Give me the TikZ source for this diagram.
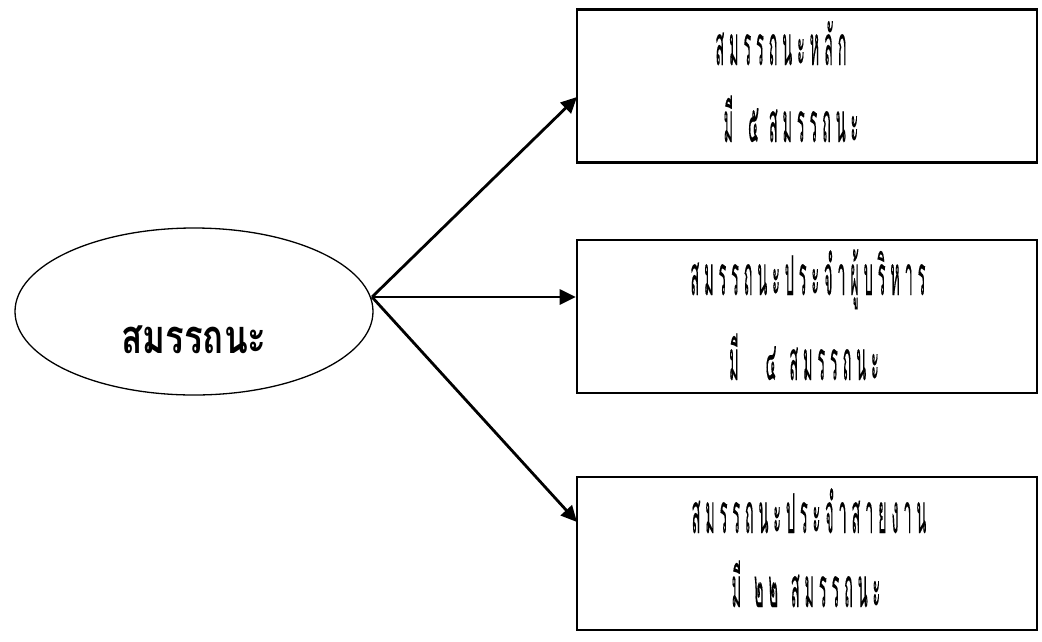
\documentclass[tikz,border=0pt]{standalone}
\usepackage{fontspec}
\usetikzlibrary{shapes.geometric,arrows.meta}
\newfontfamily\thaisp[Script=Thai,FakeStretch=0.26,LetterSpace=9,FakeBold=0.15]{Loma}
\newfontfamily\thaibold[Script=Thai,FakeStretch=0.74]{Loma}
\tikzset{
  box/.style={draw,line width=2.6pt,minimum width=460pt,minimum height=153pt,inner sep=0pt},
  oval/.style={ellipse,draw,line width=1.3pt,minimum width=358pt,minimum height=167pt,inner sep=0pt},
  lbl/.style={inner sep=0pt,anchor=base,font=\thaisp\fontsize{55}{57}\selectfont},
  big/.style={inner sep=0pt,anchor=base,font=\thaibold\bfseries\fontsize{47}{49}\selectfont},
  conn/.style={line width=2.8pt,-{Triangle[length=16pt,width=15pt]}}
}
\begin{document}
\begin{tikzpicture}[x=1pt,y=-1pt]
\useasboundingbox (0,0) rectangle (1042,641);
\node[oval] (e) at (194,311.5) {};
\node[big] (et) at (194,353) {สมรรถนะ};
\node[box] (b1) at (807,86) {};
\node[box] (b2) at (807,316.5) {};
\node[box] (b3) at (807,553.5) {};
\node[lbl] (t11) at (781,65) {สมรรถนะหลัก};
\node[lbl] (t12) at (791,142) {มี\hspace{15pt}๕\hspace{10pt}สมรรถนะ};
\node[lbl] (t21) at (808,295) {สมรรถนะประจำผู้บริหาร};
\node[lbl] (t22) at (804,380) {มี\hspace{27pt}๔\hspace{13pt}สมรรถนะ};
\node[lbl] (t31) at (809,533) {สมรรถนะประจำสายงาน};
\node[lbl] (t32) at (806,607) {มี\hspace{13pt}๒๒\hspace{13pt}สมรรถนะ};
\coordinate (src) at (372,297);
\coordinate (p1) at (577,97);
\coordinate (p3) at (577,522);
\draw[conn] (src) -- (p1);
\draw[conn] (src) -- (b2.west |- src);
\draw[conn] (src) -- (p3);
\end{tikzpicture}
\end{document}
